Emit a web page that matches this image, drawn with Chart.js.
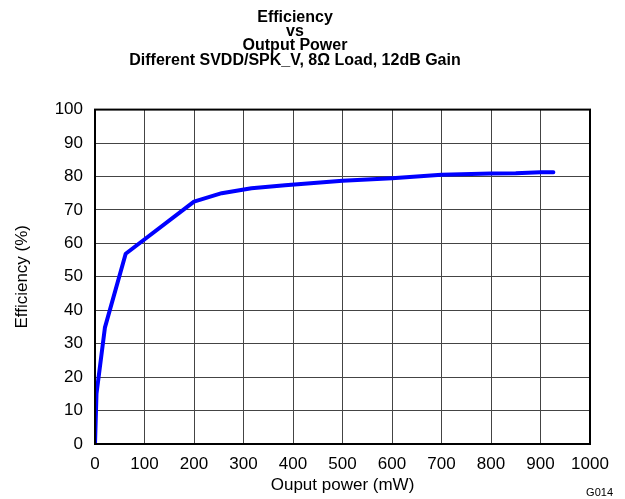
<!DOCTYPE html>
<html>
<head>
<meta charset="utf-8">
<script src="https://cdn.jsdelivr.net/npm/chart.js@4/dist/chart.umd.min.js"></script>
<style>
  body { margin: 0; background: #fff; }
  #wrap { width: 625px; height: 499px; }
</style>
</head>
<body>
<div id="wrap"><canvas id="effChart" width="625" height="499"></canvas></div>
<script>
// Output power (mW) and efficiency (%)
const powerMw = [0, 3, 20, 62, 200, 256, 316, 384, 500, 600, 700, 800, 850, 900, 926];
const efficiencyPct = [0, 15, 34.8, 56.9, 72.5, 75, 76.5, 77.4, 78.7, 79.5, 80.5, 80.9, 81, 81.3, 81.3];

const xTicks = [0, 100, 200, 300, 400, 500, 600, 700, 800, 900, 1000];
const yTicks = [0, 10, 20, 30, 40, 50, 60, 70, 80, 90, 100];

const titleLines = ['Efficiency', 'vs', 'Output Power', 'Different SVDD/SPK_V, 8\u03A9 Load, 12dB Gain'];

const points = powerMw.map((p, i) => ({ x: p, y: efficiencyPct[i] }));

const font = '"Liberation Sans", Arial, sans-serif';

// black frame around plot + small figure id
const framePlugin = {
    id: 'frame',
    afterDraw(chart) {
        const { ctx, chartArea: a } = chart;
        ctx.save();
        ctx.strokeStyle = '#000';
        ctx.lineWidth = 2;
        ctx.strokeRect(a.left, a.top, a.right - a.left, a.bottom - a.top);
        ctx.fillStyle = '#000';
        ctx.font = '11px ' + font;
        ctx.textAlign = 'right';
        ctx.textBaseline = 'middle';
        ctx.fillText('G014', 613, 493);
        ctx.restore();
    }
};

new Chart(document.getElementById('effChart').getContext('2d'), {
    type: 'scatter',
    data: {
        datasets: [{
            data: points,
            showLine: true,
            borderColor: '#0000ff',
            borderWidth: 4,
            pointRadius: 0,
            tension: 0,
            borderJoinStyle: 'round',
            borderCapStyle: 'round'
        }]
    },
    options: {
        responsive: false,
        animation: false,
        layout: { padding: { left: 0, right: 35, top: 0, bottom: 0 } },
        plugins: {
            legend: { display: false },
            tooltip: { enabled: false },
            title: {
                display: true,
                text: titleLines,
                color: '#000',
                font: { family: font, size: 16, weight: 'bold', lineHeight: 0.9 },
                padding: { top: 10, bottom: 42 }
            }
        },
        scales: {
            x: {
                type: 'linear',
                min: 0,
                max: 1000,
                afterBuildTicks: s => { s.ticks = xTicks.map(v => ({ value: v })); },
                afterFit: s => { s.height = 55; },
                grid: { color: '#444', lineWidth: 1, drawTicks: false },
                border: { color: '#000', width: 2 },
                ticks: { color: '#000', padding: 10, maxRotation: 0, callback: v => String(v), font: { family: font, size: 17 } },
                title: { display: true, text: 'Ouput power (mW)', color: '#000', padding: { top: 0, bottom: 3 }, font: { family: font, size: 17 } }
            },
            y: {
                type: 'linear',
                min: 0,
                max: 100,
                afterBuildTicks: s => { s.ticks = yTicks.map(v => ({ value: v })); },
                afterFit: s => { s.width = 95; },
                grid: { color: '#444', lineWidth: 1, drawTicks: false },
                border: { color: '#000', width: 2 },
                ticks: { color: '#000', padding: 12, callback: v => String(v), font: { family: font, size: 17 } },
                title: { display: true, text: 'Efficiency (%)', color: '#000', padding: { top: 12, bottom: 0 }, font: { family: font, size: 17 } }
            }
        }
    },
    plugins: [framePlugin]
});
</script>
</body>
</html>
